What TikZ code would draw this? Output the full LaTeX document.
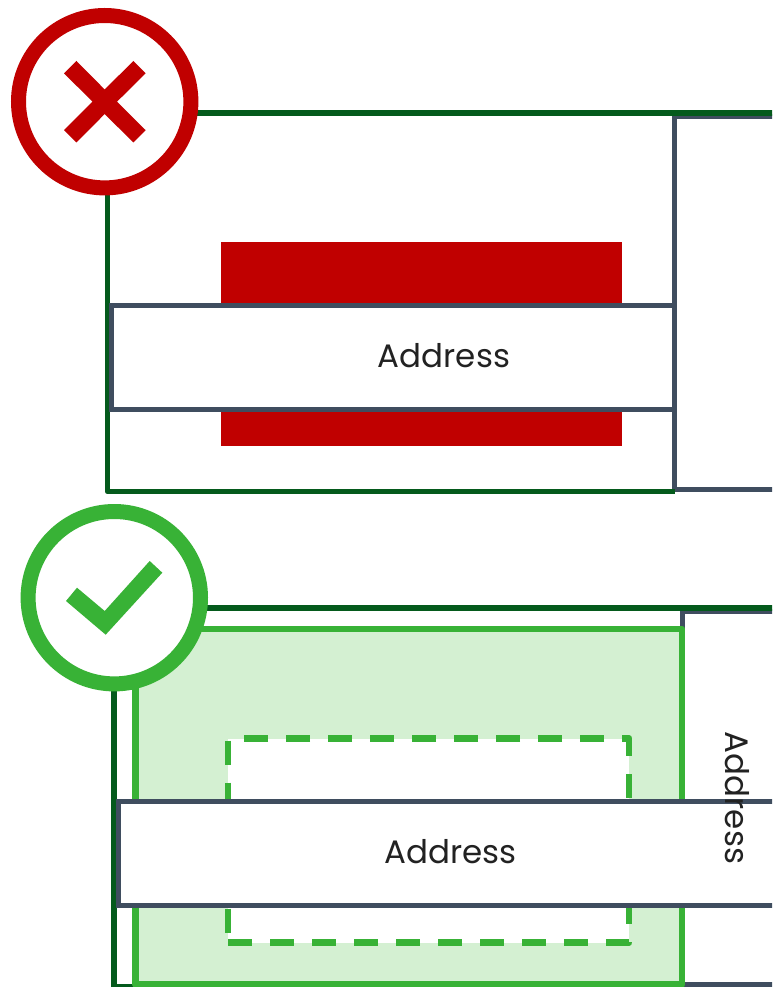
\documentclass[tikz,border=0pt]{standalone}
\usepackage{fontspec}
\setmainfont{Poppins}
\definecolor{dkgreen}{HTML}{045A1C}
\definecolor{slate}{HTML}{3F4D5F}
\definecolor{badred}{HTML}{C00000}
\definecolor{okgreen}{HTML}{38B236}
\definecolor{okfill}{HTML}{D4F0D2}
\definecolor{ink}{HTML}{222222}
\tikzset{
  outerline/.style={draw=dkgreen,line width=5.8pt,line join=round},
  slatebox/.style={draw=slate,line width=5pt,fill=white,line join=miter},
  ring/.style={line width=15pt,fill=white},
  label/.style={font=\fontsize{32.5}{38}\selectfont,text=ink,inner sep=0pt},
}
\begin{document}
\begin{tikzpicture}[x=1pt,y=-1pt]
\useasboundingbox (0,0) rectangle (772,987);
\clip (0,0) rectangle (772,987);
\fill[white] (0,0) rectangle (772,987);
% top panel
\draw[slatebox] (674.5,116.6) rectangle (800,489.5);
\draw[outerline] (800,112.7) -- (107.5,112.7) -- (107.5,491.5) -- (674.5,491.5);
\fill[badred] (221,242) rectangle (622,446);
\draw[slatebox] (111,305.3) rectangle (674.5,409.3);
\node[label] (addrtop) at (444,356) {Address};
\draw[ring,draw=badred] (104.7,101.7) circle[radius=86.2];
\fill[badred] (133.3,61) -- (145.7,73.3) -- (117,101.7) -- (145.7,130.2) -- (133.3,142.5) -- (104.7,114) -- (76.5,142.5) -- (64,130.2) -- (92.5,101.7) -- (64,73.3) -- (76.5,61) -- (104.7,89.5) -- cycle;
% bottom panel
\draw[slatebox] (682,611.8) rectangle (800,984.6);
\draw[outerline] (800,608) -- (114,608) -- (114,986.5) -- (136,986.5);
\draw[okgreen,fill=okfill,line width=6.4pt,line join=round] (135.5,629) rectangle (682,984.5);
\fill[white] (228,738.5) rectangle (629,942.5);
\draw[okgreen,line width=6.8pt,line join=round,dash pattern=on 24pt off 18pt] (228,942.5) -- (629,942.5) -- (629,738.5) -- (228,738.5) -- cycle;
\draw[slatebox] (118,801.3) rectangle (800,905.5);
\node[label] (addrbot) at (450.5,852) {Address};
\node[label,rotate=-90] (addrside) at (737,798) {Address};
\draw[ring,draw=okgreen] (114.3,597.7) circle[radius=86.2];
\fill[okgreen] (66,601) -- (77,587.7) -- (104.7,611) -- (149.7,561) -- (162.3,572.7) -- (105.7,634.7) -- cycle;
\end{tikzpicture}
\end{document}
